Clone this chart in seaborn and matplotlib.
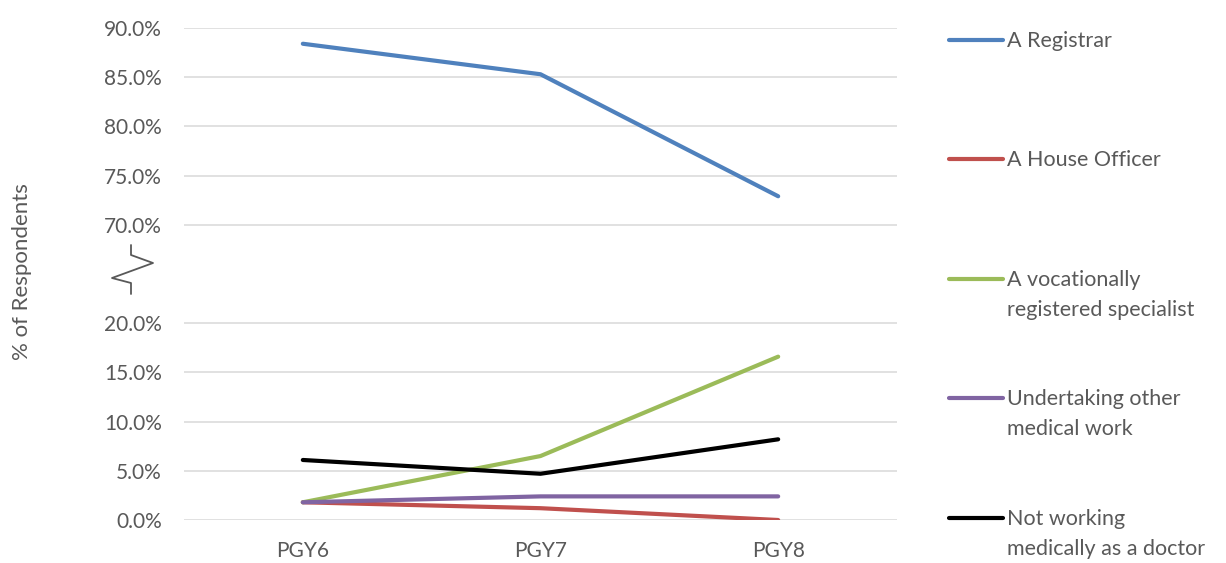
import numpy as np
import pandas as pd
import matplotlib
matplotlib.use("Agg")
import matplotlib.pyplot as plt
from matplotlib.lines import Line2D
import matplotlib.transforms as mtransforms
import seaborn as sns

# Survey data: % of respondents in each role by postgraduate year
years = ["PGY6", "PGY7", "PGY8"]
registrar = [88.4, 85.3, 72.9]
house_officer = [1.8, 1.2, 0.0]
vocational_specialist = [1.8, 6.5, 16.6]
other_medical_work = [1.8, 2.4, 2.4]
not_working = [6.1, 4.7, 8.2]

series_names = [
    "A Registrar",
    "A House Officer",
    "A vocationally\nregistered specialist",
    "Undertaking other\nmedical work",
    "Not working\nmedically as a doctor",
]
series_values = [registrar, house_officer, vocational_specialist,
                 other_medical_work, not_working]
colors = ["#4F81BD", "#C0504D", "#9BBB59", "#8064A2", "#000000"]

# Broken axis: values above the break are shifted down by this offset
break_offset = 40.0
lower_ticks = [0, 5, 10, 15, 20]
upper_ticks = [70, 75, 80, 85, 90]


def to_axis(v):
    return v if v <= 25 else v - break_offset


rows = []
for name, vals in zip(series_names, series_values):
    for yr, v in zip(years, vals):
        rows.append({"year": yr, "series": name, "value": v, "plotted": to_axis(v)})
df = pd.DataFrame(rows)

sns.set_theme(style="white")
plt.rcParams["font.family"] = ["Lato", "DejaVu Sans"]

text_color = "#595959"
W, H = 1226, 563
fig = plt.figure(figsize=(W / 100, H / 100), dpi=100)
ax = fig.add_axes([184 / W, 1 - 520 / H, (897 - 184) / W, (520 - 28) / H])

sns.lineplot(data=df, x="year", y="plotted", hue="series", hue_order=series_names,
             palette=colors, linewidth=3, legend=False, sort=False, ax=ax,
             solid_capstyle="round")

ax.set_xlim(-0.5, 2.5)
ax.set_ylim(0, 50)
ticks = [to_axis(t) for t in lower_ticks + upper_ticks]
ax.set_yticks(ticks)
ax.set_yticklabels([f"{t:.1f}%" for t in lower_ticks + upper_ticks])
ax.grid(axis="y", color="#d9d9d9", linewidth=1.1)
ax.grid(axis="x", visible=False)
ax.set_axisbelow(True)
for s in ax.spines.values():
    s.set_visible(False)
ax.tick_params(axis="y", length=0, pad=16, labelsize=15, labelcolor=text_color)
ax.tick_params(axis="x", length=0, pad=15, labelsize=15, labelcolor=text_color)
ax.set_xlabel("")
ax.set_ylabel("")
fig.text(22 / W, 1 - 272 / H, "% of Respondents", rotation=90, fontsize=16,
         color=text_color, ha="center", va="center")

# Zigzag marking the axis break
trans = mtransforms.blended_transform_factory(ax.transAxes, ax.transData)
px = np.array([131, 131, 153, 112, 131, 131])
py = np.array([245, 255, 263, 278, 283, 294])
zx = (px - 184) / 713
zy = (520 - py) / (492 / 50)
ax.add_line(Line2D(zx, zy, transform=trans, color=text_color, linewidth=1.3,
                   clip_on=False))

# Legend on the right, each handle aligned with the first line of its label
legend_y = [40, 159, 279, 398, 518]
for name, col, y in zip(series_names, colors, legend_y):
    fy = 1 - y / H
    fig.add_artist(Line2D([949 / W, 1003 / W], [fy, fy], color=col,
                          linewidth=3, solid_capstyle="round",
                          transform=fig.transFigure))
    fig.text(1007 / W, fy + 9 / H, name, fontsize=15.5, color=text_color,
             va="top", ha="left", linespacing=1.65)

fig.savefig("out.png", dpi=100)
